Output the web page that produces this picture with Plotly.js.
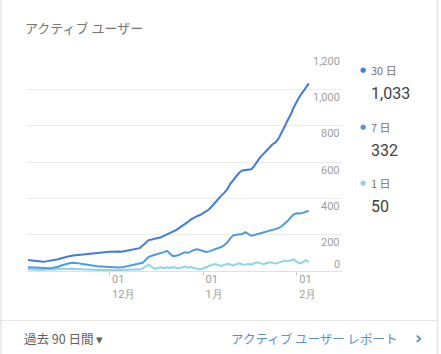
<!DOCTYPE html>
<html>
<head>
<meta charset="utf-8">
<script src="https://cdn.plot.ly/plotly-3.0.1.min.js"></script>
<style>
html,body{margin:0;padding:0;background:#fff;}
#chart{width:441px;height:354px;}
</style>
</head>
<body>
<div id="chart"></div>
<script>
// ---- data ----
const startDate = '2019-11-04';
const seriesNames = ['30 日', '7 日', '1 日'];
const users30 = [60,58,56,55,52,51,53,55,57,60,65,70,75,79,82,85,87,88,90,93,96,98,100,101,103,103,104,106,106,108,107,106,110,114,117,120,123,126,140,158,170,173,176,180,186,193,200,207,215,225,236,246,257,270,284,295,302,308,318,328,340,358,378,398,415,430,450,480,500,520,542,553,555,556,560,580,605,628,645,660,680,698,708,730,760,795,830,860,900,935,962,985,1010,1033];
const users7 = [20,19,17,15,14,13,14,15,16,18,23,30,36,40,44,46,45,42,38,35,32,30,28,26,25,24,22,20,18,18,19,20,23,27,30,33,36,38,45,62,78,84,88,93,97,104,111,96,81,84,88,97,103,100,108,116,119,114,108,105,108,113,118,124,132,142,157,180,196,200,200,204,214,205,194,198,203,207,210,214,222,228,230,236,246,258,275,295,312,318,316,320,328,332];
const users1 = [10,8,9,7,8,6,9,8,10,8,12,10,14,11,13,12,10,11,8,9,7,8,6,7,5,6,4,5,6,5,7,5,8,6,9,7,10,8,14,24,36,22,12,16,20,14,21,17,22,18,15,20,24,18,22,16,12,9,14,22,30,34,38,32,28,34,40,36,30,38,42,36,34,40,35,44,48,42,38,44,48,45,40,46,52,56,54,60,64,52,42,48,60,50];
const xTickVals = ['2019-12-01', '2020-01-01', '2020-02-01'];
const xTickText = ['01<br>12月', '01<br>1月', '01<br>2月'];
const yTickVals = [0, 200, 400, 600, 800, 1000, 1200];
const colors = ['#3f7be0', '#4a9be2', '#8fd3ec'];

// ---- build ----
function addDays(s, n){
  const d = new Date(s + 'T00:00:00Z');
  d.setUTCDate(d.getUTCDate() + n);
  return d.toISOString().slice(0,10);
}
const dates = users30.map((_, i) => addDays(startDate, i));
const all = [users30, users7, users1];

const traces = all.map((ys, k) => ({
  x: dates, y: ys, type: 'scatter', mode: 'lines', name: seriesNames[k],
  line: {color: colors[k], width: 2, shape: 'linear'}, hoverinfo: 'skip'
})).reverse();

const fmt = v => v.toLocaleString('en-US');
const gray = '#9e9e9e';
const font = '"Noto Sans CJK JP", Roboto, Arial, sans-serif';

const annotations = [];
// title
annotations.push({xref:'paper', yref:'paper', x:-0.0127, y:1.115, xanchor:'left', yanchor:'middle',
  text:'アクティブ ユーザー', showarrow:false, font:{family:font, size:13, color:'#757575'}});
// y labels (below gridlines, right aligned)
yTickVals.forEach(v => {
  annotations.push({xref:'paper', yref:'y', x:1, y:v, xanchor:'right', yanchor:'middle',
    yshift: v === 0 ? 7 : -8, text: fmt(v), showarrow:false,
    font:{family:'Roboto, Arial, sans-serif', size:11, color:gray}});
});
// legend
const legY = [70, 127, 183];
all.forEach((ys, k) => {
  const yPix = legY[k];
  annotations.push({xref:'paper', yref:'paper', x:(363-27)/315, y:1-(yPix-53)/218, xanchor:'center', yanchor:'middle',
    text:'●', showarrow:false, font:{family:'DejaVu Sans', size:7, color:colors[k]}});
  annotations.push({xref:'paper', yref:'paper', x:(369-27)/315, y:1-(yPix-53)/218, xanchor:'left', yanchor:'middle',
    text:seriesNames[k], showarrow:false, font:{family:font, size:11, color:'#757575'}});
  annotations.push({xref:'paper', yref:'paper', x:(369-27)/315, y:1-(yPix+23-53)/218, xanchor:'left', yanchor:'middle',
    text:fmt(ys[ys.length-1]), showarrow:false, font:{family:'Roboto, Arial, sans-serif', size:16, color:'#424242'}});
});
// footer
annotations.push({xref:'paper', yref:'paper', x:(22-27)/315, y:1-(338-53)/218, xanchor:'left', yanchor:'middle',
  text:'過去 90 日間 ▾', showarrow:false, font:{family:font, size:12.5, color:'#616161'}});
annotations.push({xref:'paper', yref:'paper', x:(399-27)/315, y:1-(338-53)/218, xanchor:'right', yanchor:'middle',
  text:'アクティブ ユーザー レポート', showarrow:false, font:{family:font, size:12.5, color:'#5b8fd8'}});
annotations.push({xref:'paper', yref:'paper', x:(418-27)/315, y:1-(338-53)/218, xanchor:'center', yanchor:'middle',
  text:'<b>›</b>', showarrow:false, font:{family:'DejaVu Sans', size:17, color:'#4a86d8'}});

const shapes = [
  {type:'line', xref:'paper', yref:'paper', x0:(0-27)/315, x1:(437-27)/315, y0:1-(320.5-53)/218, y1:1-(320.5-53)/218, line:{color:'#e6e6e6', width:1}},
  {type:'line', xref:'paper', yref:'paper', x0:(1-27)/315, x1:(1-27)/315, y0:1-(0-53)/218, y1:1-(354-53)/218, line:{color:'#e6e6e6', width:1.5}},
  {type:'line', xref:'paper', yref:'paper', x0:(437.5-27)/315, x1:(437.5-27)/315, y0:1-(0-53)/218, y1:1-(354-53)/218, line:{color:'#e6e6e6', width:1.5}}
];

const layout = {
  width: 441, height: 354,
  margin: {l: 27, r: 99, t: 53, b: 83, pad: 0},
  paper_bgcolor: '#fff', plot_bgcolor: '#fff',
  showlegend: false,
  xaxis: {
    type: 'date',
    range: ['2019-11-03 16:00', '2020-02-16'],
    tickvals: xTickVals, ticktext: xTickText,
    ticklabelposition: 'outside right',
    ticklabelstandoff: -2,
    ticklabelshift: 2,
    ticks: 'outside', ticklen: 4, tickcolor: '#d0d0d0', tickwidth: 1,
    showgrid: false, zeroline: false, showline: false,
    tickfont: {family: 'Roboto, Arial, sans-serif', size: 11, color: gray},
    fixedrange: true
  },
  yaxis: {
    range: [0, 1200],
    tickvals: yTickVals, showticklabels: false,
    showgrid: true, gridcolor: '#ebebeb', gridwidth: 1,
    zeroline: true, zerolinecolor: '#e0e0e0', zerolinewidth: 1,
    showline: false, ticks: '', fixedrange: true
  },
  annotations: annotations,
  shapes: shapes
};

Plotly.newPlot('chart', traces, layout, {displayModeBar: false, staticPlot: true});
</script>
</body>
</html>
